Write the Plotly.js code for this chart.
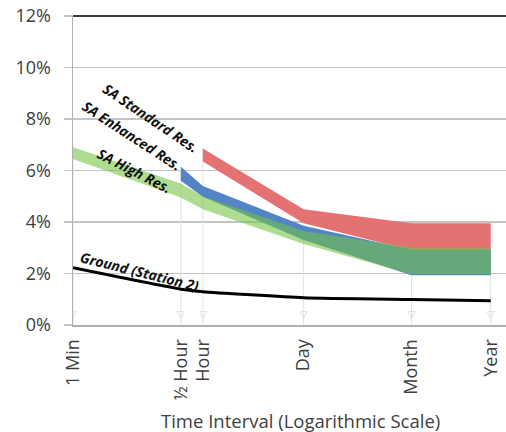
<!DOCTYPE html>
<html>
<head>
<meta charset="utf-8">
<script src="https://cdn.plot.ly/plotly-3.0.1.min.js"></script>
<style>
  html, body { margin: 0; padding: 0; background: #ffffff; }
  #chart { width: 506px; height: 432px; }
</style>
</head>
<body>
<div id="chart"></div>
<script>
// ---- Data (values in %) ----
const categories = ['1 Min', '½ Hour', 'Hour', 'Day', 'Month', 'Year'];
const minutes = [1, 30, 60, 1440, 43200, 525600];

const groundValues = [2.22, 1.39, 1.29, 1.06, 0.99, 0.94];

// SA High Res. (all six intervals)
const highUpper = [6.9, 5.5, 5.0, 3.65, 3.0, 3.0];
const highLower = [6.45, 4.95, 4.5, 3.15, 1.97, 1.97];

// SA Enhanced Res. (½ Hour .. Year)
const enhancedUpper = [6.15, 5.4, 3.85, 2.92, 2.92];
const enhancedLower = [5.6, 4.98, 3.3, 1.93, 1.93];

// SA Standard Res. (Hour .. Year)
const standardUpper = [6.85, 4.5, 3.95, 3.95];
const standardLower = [6.35, 3.95, 2.9, 2.9];

const yTickVals = [0, 2, 4, 6, 8, 10, 12];
const yTickText = yTickVals.map(v => v + '%');

// ---- Helpers ----
const xHigh = minutes.slice(0);
const xEnh = minutes.slice(1);
const xStd = minutes.slice(2);

function band(x, upper, lower, color, name) {
  return {
    type: 'scatter', mode: 'lines', name: name,
    x: x.concat(x.slice().reverse()),
    y: upper.concat(lower.slice().reverse()),
    fill: 'toself', fillcolor: color,
    line: { width: 0 }, hoverinfo: 'skip', showlegend: false
  };
}

// drop lines from the highest value at each interval down to 0
const tops = minutes.map((m, i) => {
  const vals = [highUpper[i], groundValues[i]];
  const ei = i - 1, si = i - 2;
  if (ei >= 0) vals.push(enhancedUpper[ei]);
  if (si >= 0) vals.push(standardUpper[si]);
  return Math.max.apply(null, vals);
});
const dropX = [], dropY = [];
minutes.forEach((m, i) => { dropX.push(m, m, null); dropY.push(tops[i], 0, null); });

const traces = [
  { type: 'scatter', mode: 'lines', x: dropX, y: dropY,
    line: { color: '#e3e3e3', width: 1 }, hoverinfo: 'skip', showlegend: false },
  { type: 'scatter', mode: 'markers', x: minutes, y: minutes.map(() => 0.25),
    marker: { symbol: 'arrow-down-open', size: 7, color: '#e0e0e0', line: { color: '#e0e0e0', width: 1 } },
    hoverinfo: 'skip', showlegend: false },
  band(xStd, standardUpper, standardLower, 'rgb(228,114,114)', 'SA Standard Res.'),
  band(xEnh, enhancedUpper, enhancedLower, 'rgb(82,132,198)', 'SA Enhanced Res.'),
  band(xHigh, highUpper, highLower, 'rgba(115,195,65,0.58)', 'SA High Res.'),
  { type: 'scatter', mode: 'lines', x: minutes, y: groundValues, name: 'Ground (Station 2)',
    line: { color: '#000000', width: 3, shape: 'spline', smoothing: 0.5 },
    hoverinfo: 'skip', showlegend: false }
];

const L = 73, T = 16, W = 433, H = 309;
function px(x) { return (x - L) / W; }
function py(y) { return (T + H - y) / H; }

const labelFont = { family: 'Open Sans, sans-serif', size: 14, color: '#111111', weight: 'bold', style: 'italic' };
function label(text, cx, cy, angle) {
  return { text: text, xref: 'paper', yref: 'paper', x: px(cx), y: py(cy),
    xanchor: 'center', yanchor: 'middle', textangle: angle, showarrow: false, font: labelFont };
}

const layout = {
  width: 506, height: 432,
  margin: { l: L, r: 0, t: T, b: 432 - T - H },
  paper_bgcolor: '#ffffff', plot_bgcolor: '#ffffff',
  font: { family: 'Open Sans, sans-serif', color: '#404040', size: 16 },
  showlegend: false,
  xaxis: {
    type: 'log', range: [0, 5.93],
    tickvals: minutes, ticktext: categories, tickangle: -90,
    showgrid: false, zeroline: false,
    showline: true, linecolor: '#b0b0b0', linewidth: 2,
    ticks: '', ticklabelstandoff: 5,
    tickfont: { size: 18, color: '#404040' },
    fixedrange: true
  },
  yaxis: {
    range: [0, 12], tickvals: yTickVals, ticktext: yTickText,
    showgrid: true, gridcolor: '#c4c4c4', gridwidth: 1.5,
    zeroline: false, showline: true, linecolor: '#b0b0b0', linewidth: 1.5,
    ticks: 'outside', ticklen: 8, tickcolor: '#c4c4c4', tickwidth: 1.5,
    ticklabelstandoff: 9,
    tickfont: { size: 18, color: '#404040' },
    fixedrange: true
  },
  shapes: [
    { type: 'line', xref: 'paper', yref: 'paper', x0: 0, x1: 1, y0: 1, y1: 1,
      line: { color: '#3a3a3a', width: 2 } }
  ],
  annotations: [
    label('SA Standard Res.', 150, 118, 34),
    label('SA Enhanced Res.', 132, 135, 33),
    label('SA High Res.', 134, 171, 27),
    label('Ground (Station 2)', 140, 271, 14),
    { text: 'Time Interval (Logarithmic Scale)', xref: 'paper', yref: 'paper',
      x: px(300), y: py(421), xanchor: 'center', yanchor: 'middle',
      showarrow: false, font: { family: 'Open Sans, sans-serif', size: 18.5, color: '#404040' } }
  ]
};

Plotly.newPlot('chart', traces, layout, { displayModeBar: false, staticPlot: true });
</script>
</body>
</html>
